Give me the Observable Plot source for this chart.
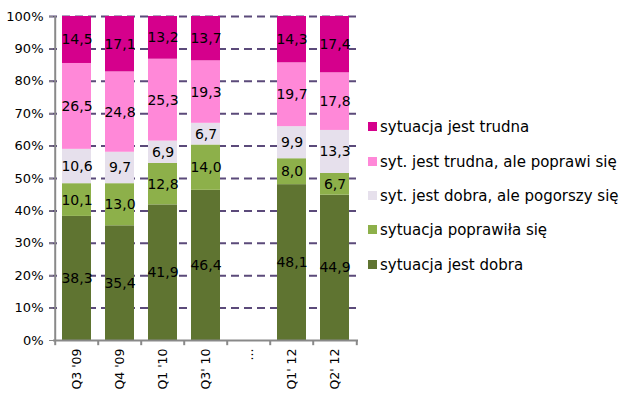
<!DOCTYPE html>
<html>
<head>
<meta charset="utf-8">
<script src="https://cdn.jsdelivr.net/npm/d3@7"></script>
<script src="https://cdn.jsdelivr.net/npm/@observablehq/plot@0.6"></script>
<style>
  html, body { margin: 0; padding: 0; background: #fff; }
  #wrap { position: relative; width: 627px; height: 403px; font-family: "DejaVu Sans", sans-serif; }
  #legend { position: absolute; left: 368px; top: 0; }
  .item { position: absolute; left: 0; white-space: nowrap; font-size: 15px; color: #000; line-height: 18px; }
  .sw { display: inline-block; width: 9px; height: 9px; margin-right: 3px; vertical-align: 1px; }
</style>
</head>
<body>
<div id="wrap"><div id="chart"></div><div id="legend"></div></div>
<script>
const categories = ["Q3 '09", "Q4 '09", "Q1 '10", "Q3' 10", "...", "Q1' 12", "Q2' 12"];
const seriesNames = [
  "sytuacja jest dobra",
  "sytuacja poprawiła się",
  "syt. jest dobra, ale pogorszy się",
  "syt. jest trudna, ale poprawi się",
  "sytuacja jest trudna"
];
const seriesColors = ["#5f7431", "#8db04a", "#e6e0ec", "#ff88d8", "#d5008c"];
const jestDobra      = [38.3, 35.4, 41.9, 46.4, null, 48.1, 44.9];
const poprawilaSie   = [10.1, 13.0, 12.8, 14.0, null, 8.0, 6.7];
const dobraPogorszy  = [10.6, 9.7, 6.9, 6.7, null, 9.9, 13.3];
const trudnaPoprawi  = [26.5, 24.8, 25.3, 19.3, null, 19.7, 17.8];
const jestTrudna     = [14.5, 17.1, 13.2, 13.7, null, 14.3, 17.4];
const yTicks = [0, 0.1, 0.2, 0.3, 0.4, 0.5, 0.6, 0.7, 0.8, 0.9, 1.0];

const seriesValues = [jestDobra, poprawilaSie, dobraPogorszy, trudnaPoprawi, jestTrudna];
const data = [];
categories.forEach((c, i) => {
  seriesNames.forEach((s, j) => {
    const v = seriesValues[j][i];
    if (v != null) data.push({cat: c, series: s, value: v});
  });
});

const W = 627, H = 403, ML = 53, MR = 269, MT = 16, MB = 63;
const step = (W - ML - MR) / categories.length;
const fmt = v => d3.format(".1f")(v).replace(".", ",");

const chart = Plot.plot({
  width: W, height: H,
  marginLeft: ML, marginRight: MR, marginTop: MT, marginBottom: MB,
  style: {fontFamily: "DejaVu Sans, sans-serif", fontSize: "12px", color: "#000", background: "#fff"},
  x: {domain: categories, paddingInner: 0.33, paddingOuter: 0.165, axis: null},
  y: {domain: [0, 1], axis: null},
  color: {domain: seriesNames, range: seriesColors},
  marks: [
    Plot.ruleY(yTicks.filter(d => d > 0), {stroke: "#5b4a7a", strokeWidth: 2, strokeDasharray: "8,5", insetLeft: -4}),
    Plot.barY(data, Plot.stackY({x: "cat", y: "value", fill: "series", order: seriesNames, offset: "normalize"})),
    Plot.text(data, Plot.stackY({x: "cat", y: "value", z: "series", order: seriesNames, offset: "normalize",
      text: d => fmt(d.value), fontSize: 14, fill: "#000"})),
    Plot.ruleY([0], {stroke: "#898989", strokeWidth: 2}),
    Plot.ruleX([categories[0]], {y1: 0, y2: 1, dx: -step / 2, stroke: "#898989", strokeWidth: 2}),
    Plot.ruleX(categories, {y1: 0, y2: -0.016, dx: -step / 2, stroke: "#898989", strokeWidth: 2}),
    Plot.ruleX([categories[categories.length - 1]], {y1: 0, y2: -0.016, dx: step / 2, stroke: "#898989", strokeWidth: 2}),
    Plot.axisY({ticks: yTicks, tickFormat: d => Math.round(d * 100) + "%", tickSize: 4, tickPadding: 6, stroke: "#898989", fontSize: 13, label: null}),
    Plot.axisX({tickRotate: -90, tickSize: 0, tickPadding: 8, fontSize: 12.5, label: null})
  ]
});
document.getElementById("chart").appendChild(chart);

const legend = document.getElementById("legend");
const legendTops = [265, 230, 196, 162, 127];
seriesNames.forEach((s, i) => {
  const div = document.createElement("div");
  div.className = "item";
  div.style.top = (legendTops[i] - 9) + "px";
  div.innerHTML = `<span class="sw" style="background:${seriesColors[i]}"></span>${s}`;
  legend.appendChild(div);
});
</script>
</body>
</html>
